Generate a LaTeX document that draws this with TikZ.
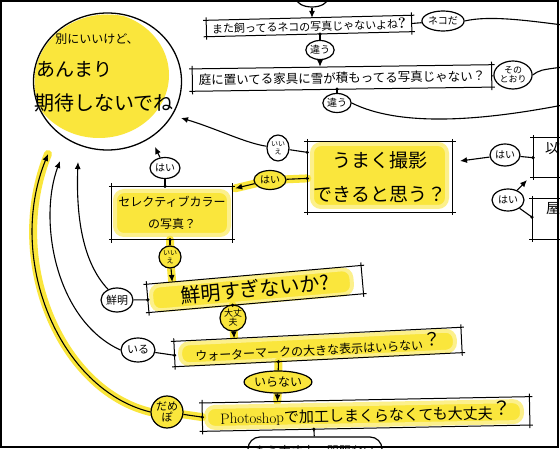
\documentclass[tikz,border=0pt]{standalone}
\usepackage{fontspec}
\newfontfamily\jp{Noto Sans CJK JP}
\usetikzlibrary{shapes.geometric,arrows.meta,calc}
\definecolor{hl}{RGB}{250,230,60}
\definecolor{hlsoft}{RGB}{252,240,140}
\pgfdeclarelayer{back}
\pgfdeclarelayer{bg}
\pgfsetlayers{back,bg,main}
\tikzset{
  jf/.style={font=\jp\fontsize{#1}{#1}\selectfont},
  bub/.style={draw, ellipse, line width=1.2pt, inner sep=0pt, fill=white},
  ybub/.style={bub, fill=hl},
  qbox/.style={rectangle, inner sep=2pt},
  boxline/.style={line width=1pt, shorten <=-3pt, shorten >=-3pt},
  con/.style={line width=1.1pt},
  arr/.style={con, -{Latex[length=7pt,width=6pt]}},
  glow/.style={fill=hl, draw=hlsoft, line width=4pt, rounded corners=9pt},
  glowline/.style={draw=hl, line width=8pt, line cap=round},
  bigcirc/.style={draw, ellipse, line width=1.3pt, minimum width=148, minimum height=137, inner sep=0pt},
  joint/.style={fill=black},
}
\newcommand\handbox[1]{%
  \draw[boxline] (#1.north west) -- (#1.north east);
  \draw[boxline] (#1.south west) -- (#1.south east);
  \draw[boxline] (#1.north west) -- (#1.south west);
  \draw[boxline] (#1.north east) -- (#1.south east);}
\begin{document}
\begin{tikzpicture}[x=1pt,y=-1pt]
\useasboundingbox (0,0) rectangle (560,449);
\begin{pgfonlayer}{back}
\fill[white] (0,0) rectangle (560,449);
\end{pgfonlayer}
\begin{scope}
\clip (0,0) rectangle (560,449);
% ---------- big circle ----------
\node[bigcirc] (circ) at (107.5,81.5) {};
\node[jf=12] (c1) at (97,39) {別にいいけど、};
\node[jf=19, anchor=west, inner sep=0pt] (c2) at (36,69) {あんまり};
\node[jf=20, anchor=west, inner sep=0pt] (c3) at (34,103) {期待しないでね};
\coordinate (t1) at (181,118);
\coordinate (t2) at (155,147);
\coordinate (t3) at (78,162);
\coordinate (t4) at (60,161);
\coordinate (t5) at (48,154);
% ---------- boxes ----------
\node[qbox, minimum width=205, minimum height=16, rotate=1.4, jf=11] (b1) at (309,26)
  {また飼ってるネコの写真じゃないよね{\rmfamily\bfseries\fontsize{15}{15}\selectfont ?}};
\node[qbox, minimum width=299, minimum height=22, rotate=0.8, jf=12.5] (b2) at (342,78)
  {庭に置いてる家具に雪が積もってる写真じゃない？};
\node[qbox, minimum width=145, minimum height=70, align=center, font=\jp\fontsize{19}{34}\selectfont] (b3) at (380,177)
  {うまく撮影\\できると思う？};
\node[qbox, minimum width=120, minimum height=53, align=center, font=\jp\fontsize{12}{22}\selectfont] (b4) at (172,213)
  {セレクティブカラー\\の写真？};
\node[qbox, minimum width=215, minimum height=28, rotate=5, jf=20] (b5) at (255,289)
  {鮮明すぎないか?};
\node[qbox, minimum width=287, minimum height=25, rotate=2.8, jf=12] (b6) at (318,347)
  {ウォーターマークの大きな表示はいらない\raisebox{3pt}{\fontsize{18}{18}\selectfont ？}};
\node[qbox, minimum width=327, minimum height=28, rotate=1.1, jf=15] (b7) at (366,414)
  {{\rmfamily Photoshop}で加工しまくらなくても大丈夫\raisebox{3pt}{\fontsize{19}{19}\selectfont ？}};
\node[qbox, anchor=north west, minimum width=60, minimum height=39] (r1) at (533,138) {};
\node[jf=14, anchor=north west, inner sep=0pt] (r1t) at (545,141) {以前};
\node[qbox, anchor=north west, minimum width=60, minimum height=40] (r2) at (532,199) {};
\node[jf=14, anchor=north west, inner sep=0pt] (r2t) at (546,202) {屋};
\handbox{b1}\handbox{b2}\handbox{b3}\handbox{b4}\handbox{b5}\handbox{b6}\handbox{b7}\handbox{r1}\handbox{r2}
% ---------- bubbles ----------
\node[bub, minimum width=32, minimum height=18] (top) at (312,-2) {};
\node[bub, minimum width=38, minimum height=20, jf=10] (neko) at (443,21) {ネコだ};
\node[bub, minimum width=24, minimum height=19, jf=10] (ch1) at (320,50) {違う};
\node[bub, minimum width=36, minimum height=28, align=center, font=\jp\fontsize{9}{9.5}\selectfont] (sono) at (513,75) {その\\とおり};
\node[bub, minimum width=24, minimum height=19, jf=10] (ch2) at (337,103) {違う};
\node[bub, minimum width=22, minimum height=26, align=center, font=\jp\fontsize{7}{7.5}\selectfont] (iie1) at (278,148) {いい\\え};
\node[ybub, minimum width=32, minimum height=19, jf=10] (hai1) at (270,180) {はい};
\node[bub, minimum width=30, minimum height=21, jf=10] (hai2) at (165,168) {はい};
\node[ybub, minimum width=22, minimum height=22, align=center, font=\jp\fontsize{7}{7.5}\selectfont] (iie2) at (170,257) {いい\\え};
\node[bub, minimum width=32, minimum height=24, jf=11] (sen) at (117,300) {鮮明};
\node[ybub, minimum width=26, minimum height=26, align=center, font=\jp\fontsize{9}{9}\selectfont] (dai) at (233,318) {大丈\\夫};
\node[bub, minimum width=34, minimum height=24, jf=11] (iru) at (138,350) {いる};
\node[ybub, minimum width=66, minimum height=22, jf=12] (ira) at (278,382) {いらない};
\node[ybub, minimum width=32, minimum height=32, align=center, font=\jp\fontsize{11}{11}\selectfont] (dame) at (167,412) {だめ\\ぽ};
\node[draw, line width=1.2pt, rounded corners=12pt, fill=white, minimum width=134, minimum height=28, jf=12] (last) at (315,451) {もう大丈夫、問題ない};
\node[bub, minimum width=30, minimum height=22, jf=10] (hai3) at (505,155) {はい};
\node[bub, minimum width=32, minimum height=22, jf=10] (hai4) at (508,200) {はい};
% ---------- attachment points ----------
\coordinate (b3a) at ($(b3.north west)!0.15!(b3.south west)$);
\coordinate (b3b) at ($(b3.north west)!0.52!(b3.south west)$);
\coordinate (b5in) at ($(b5.north west)!0.12!(b5.north east)$);
\coordinate (b5l) at ($(b5.north west)!0.55!(b5.south west)$);
\coordinate (b5b) at ($(b5.south west)!0.39!(b5.south east)$);
\coordinate (b6in) at ($(b6.north west)!0.21!(b6.north east)$);
\coordinate (b6l) at ($(b6.north west)!0.55!(b6.south west)$);
\coordinate (b6b) at ($(b6.south west)!0.36!(b6.south east)$);
\coordinate (b7in) at ($(b7.north west)!0.23!(b7.north east)$);
\coordinate (b7l) at ($(b7.north west)!0.5!(b7.south west)$);
\coordinate (b7b) at ($(b7.south west)!0.34!(b7.south east)$);
\coordinate (r1l) at ($(r1.north west)!0.5!(r1.south west)$);
\coordinate (r2l) at ($(r2.north west)!0.45!(r2.south west)$);
\coordinate (b1in) at (b1.north -| top);
\coordinate (b1b) at (b1.south -| ch1);
\coordinate (b2in) at (b2.north -| ch1);
\coordinate (b2b) at (b2.south -| ch2);
\coordinate (b4t) at (b4.north -| hai2);
\coordinate (b4b) at (b4.south -| iie2);
\coordinate (b4in) at ($(b4.north east)+(3,2)$);
\coordinate (p3) at (460,161);
\coordinate (p4) at (527,180);
\coordinate (e1) at (563,25);
\coordinate (e2) at (563,67);
\coordinate (e3) at (563,105);
% ---------- connectors ----------
\draw[arr] (top) -- (b1in);
\draw[con] (b1.east) -- (neko);
\draw[con] (neko.east) .. controls (490,15) and (530,21) .. (e1);
\draw[con] (b1b) -- (ch1);
\draw[arr] (ch1) -- (b2in);
\draw[con] (b2.east) -- (sono);
\draw[con] (sono.east) .. controls (540,70) .. (e2);
\draw[con] (b2b) -- (ch2);
\draw[con] (ch2.east) .. controls (400,127) and (480,121) .. (e3);
\draw[con] (r1l) -- (hai3);
\draw[arr] (hai3) -- (p3);
\draw[con] (r2l) -- (hai4);
\draw[arr] (hai4) -- (p4);
\draw[con] (b3a) -- (iie1);
\draw[arr] (iie1) .. controls (245,143) and (215,128) .. (t1);
\draw[con] (b3b) -- (hai1);
\draw[arr] (hai1) -- (b4in);
\draw[con] (b4t) -- (hai2);
\draw[arr] (hai2) -- (t2);
\draw[con] (b4b) -- (iie2);
\draw[arr] (iie2) -- (b5in);
\draw[con] (b5l) -- (sen);
\draw[arr] (sen.130) .. controls (82,262) and (76,215) .. (t3);
\draw[con] (b5b) -- (dai);
\draw[arr] (dai) -- (b6in);
\draw[con] (b6l) -- (iru);
\draw[arr] (iru.west) .. controls (55,320) and (38,220) .. (t4);
\draw[con] (b6b) -- (ira);
\draw[arr] (ira) -- (b7in);
\draw[con] (b7l) -- (dame);
\draw[arr] (dame.west) .. controls (60,390) and (5,260) .. (t5);
\draw[con] (b7b) -- (last);
\foreach \p in {b1b,b2b,b3a,b3b,b4t,b4b,b5l,b5b,b6l,b6b,b7l,b7b,r1l,r2l}
  \fill[joint] (\p) circle (1.8);
\end{scope}
% ---------- highlights ----------
\begin{pgfonlayer}{bg}
\clip (0,0) rectangle (560,449);
\begin{scope}
  \clip (107.5,81.5) ellipse (73 and 67);
  \fill[hl] (99,75) ellipse (70 and 63);
\end{scope}
\path[glow] (312,144) rectangle (447,207);
\path[glowline] (b3b) -- (hai1.center) -- (b4in);
\path[glow] (115,191) rectangle (229,235);
\path[glowline] (b4b) -- (iie2.center) -- (b5in);
\path[glow, rotate around={5:(255,289)}] (151,277) rectangle (352,302);
\path[glowline] (b5b) -- (dai.center) -- (b6in);
\path[glow, rotate around={2.8:(318,347)}] (180,337) rectangle (455,358);
\path[glowline] (b6b) -- (ira.center) -- (b7in);
\path[glow, rotate around={1.1:(366,414)}] (206,404) rectangle (522,425);
\path[glowline] (b7l) -- (dame.center);
\path[glowline] (dame.west) .. controls (60,390) and (5,260) .. (t5);
\end{pgfonlayer}
\draw[line width=1.5pt] (1,1) rectangle (558,447);
\end{tikzpicture}
\end{document}
